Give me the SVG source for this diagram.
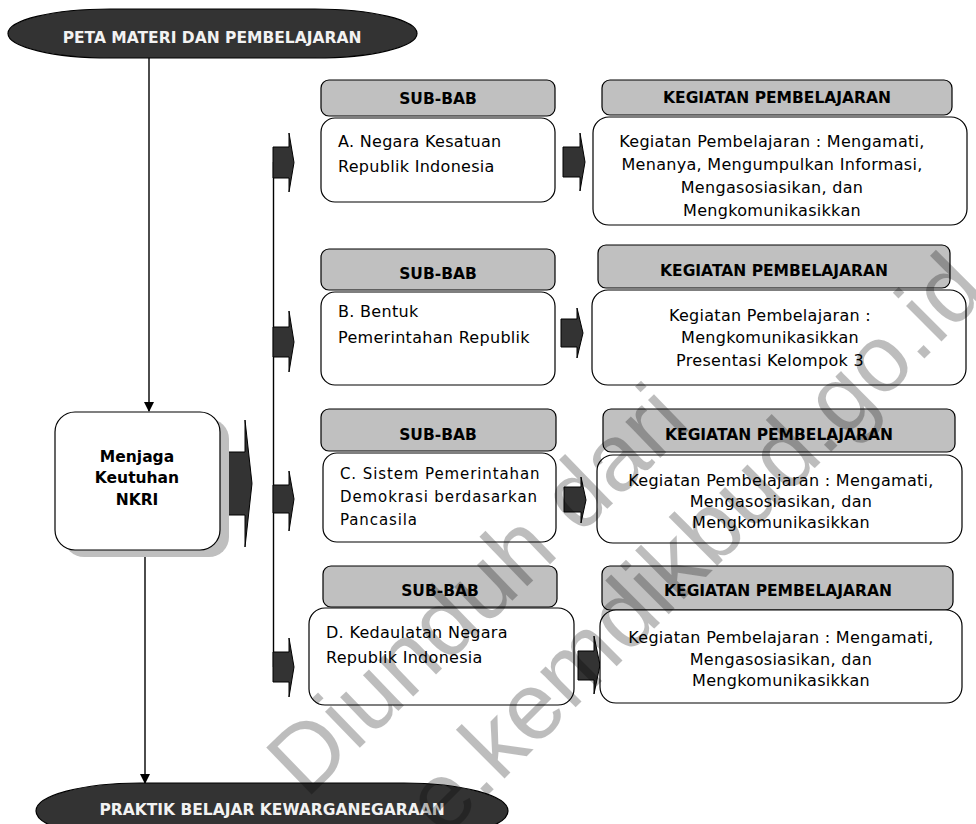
<svg xmlns="http://www.w3.org/2000/svg" width="976" height="824" viewBox="0 0 976 824">
<style>
.hdr{fill:#c0c0c0;stroke:#000;stroke-width:1.2}
.box{fill:#fff;stroke:#000;stroke-width:1.2}
.arr{fill:#333;stroke:#000;stroke-width:1;stroke-linejoin:miter}
.term{fill:#333;stroke:#000;stroke-width:1.2}
.t{font-family:"DejaVu Sans",sans-serif;font-size:16px;letter-spacing:0.3px;fill:#000}
.b{font-family:"DejaVu Sans",sans-serif;font-weight:bold;font-size:15.5px;fill:#000}
.w{fill:#f2f2f2}
.c{text-anchor:middle}
.ln{stroke:#000;stroke-width:1.4;fill:none}
.wm{font-family:"Liberation Sans",Arial,sans-serif;font-size:95px;fill:#000;fill-opacity:0.26}
</style>
<defs>
<marker id="ah" markerWidth="10" markerHeight="10" refX="9" refY="5" orient="auto" markerUnits="userSpaceOnUse">
<path d="M0,0 L10,5 L0,10 z" fill="#000"/>
</marker>
</defs>
<rect width="976" height="824" fill="#fff"/>

<g id="connectors">
<line class="ln" x1="149" y1="58" x2="149" y2="411" marker-end="url(#ah)"/>
<line class="ln" x1="145" y1="550" x2="145" y2="783" marker-end="url(#ah)"/>
<line class="ln" x1="273.5" y1="162" x2="273.5" y2="667"/>
<polygon class="arr" points="227,452 245,452 245,420 252,483.5 245,547 245,515 227,515"/>
<polygon class="arr" points="273,147 289,147 289,133 294,162.5 289,192 289,178 273,178"/>
<polygon class="arr" points="273,327 289,327 289,311 294,342 289,372 289,357 273,357"/>
<polygon class="arr" points="273,485 289,485 289,471 294,499 289,531 289,513 273,513"/>
<polygon class="arr" points="273,652 289,652 289,638 294,667 289,697 289,682 273,682"/>
<polygon class="arr" points="563,147 580,147 580,133 585,162 580,191 580,177 563,177"/>
<polygon class="arr" points="561,319 577,319 577,308 583,333 577,358 577,347 561,347"/>
<polygon class="arr" points="564,487 581,487 581,477 586,500 581,523 581,512 564,512"/>
<polygon class="arr" points="578,651 594,651 594,636 600,665 594,694 594,680 578,680"/>
</g>

<g id="peta">
<path class="term" d="M110,9 L315,9 A102,24.5 0 0 1 315,58 L110,58 A102,24.5 0 0 1 110,9 Z"/>
<text class="b w c" x="212" y="43">PETA MATERI DAN PEMBELAJARAN</text>
</g>

<g id="menjaga">
<rect x="64" y="419" width="165" height="138" rx="20" fill="#bfbfbf"/>
<rect class="box" x="55" y="412" width="165" height="138" rx="20"/>
<text class="b c" x="137" y="462">Menjaga</text>
<text class="b c" x="137" y="483">Keutuhan</text>
<text class="b c" x="137" y="505">NKRI</text>
</g>

<g id="praktik">
<path class="term" d="M140,783 L404,783 A104,28 0 0 1 404,839 L140,839 A104,28 0 0 1 140,783 Z"/>
<text class="b w c" x="272" y="815">PRAKTIK BELAJAR KEWARGANEGARAAN</text>
</g>

<g id="subbab-a">
<rect class="hdr" x="321" y="80" width="234" height="36" rx="8"/>
<text class="b c" x="438" y="104">SUB-BAB</text>
<rect class="box" x="321" y="118" width="234" height="84" rx="14"/>
<text class="t" x="338" y="147">A. Negara Kesatuan</text>
<text class="t" x="338" y="172">Republik Indonesia</text>
</g>

<g id="kegiatan-a">
<rect class="hdr" x="602" y="80" width="350" height="35" rx="8"/>
<text class="b c" x="777" y="103">KEGIATAN PEMBELAJARAN</text>
<rect class="box" x="593" y="117" width="374" height="108" rx="16"/>
<text class="t c" x="772" y="147">Kegiatan Pembelajaran : Mengamati,</text>
<text class="t c" x="772" y="170">Menanya, Mengumpulkan Informasi,</text>
<text class="t c" x="772" y="193">Mengasosiasikan, dan</text>
<text class="t c" x="772" y="216">Mengkomunikasikkan</text>
</g>

<g id="subbab-b">
<rect class="hdr" x="321" y="249" width="234" height="41" rx="8"/>
<text class="b c" x="438" y="279">SUB-BAB</text>
<rect class="box" x="321" y="292" width="234" height="93" rx="14"/>
<text class="t" x="338" y="317">B. Bentuk</text>
<text class="t" x="338" y="343">Pemerintahan Republik</text>
</g>

<g id="kegiatan-b">
<rect class="hdr" x="598" y="245" width="352" height="43" rx="8"/>
<text class="b c" x="774" y="276">KEGIATAN PEMBELAJARAN</text>
<rect class="box" x="592" y="290" width="374" height="95" rx="16"/>
<text class="t c" x="770" y="321">Kegiatan Pembelajaran :</text>
<text class="t c" x="770" y="343">Mengkomunikasikkan</text>
<text class="t c" x="770" y="366">Presentasi Kelompok 3</text>
</g>

<g id="subbab-c">
<rect class="hdr" x="321" y="409" width="235" height="42" rx="8"/>
<text class="b c" x="438" y="440">SUB-BAB</text>
<rect class="box" x="323" y="453" width="233" height="89" rx="14"/>
<text class="t" x="340" y="479" style="font-size:15px;letter-spacing:0.9px">C. Sistem Pemerintahan</text>
<text class="t" x="340" y="502" style="font-size:15px;letter-spacing:0.9px">Demokrasi berdasarkan</text>
<text class="t" x="340" y="525" style="font-size:15px;letter-spacing:0.9px">Pancasila</text>
</g>

<g id="kegiatan-c">
<rect class="hdr" x="603" y="409" width="352" height="43" rx="8"/>
<text class="b c" x="779" y="440">KEGIATAN PEMBELAJARAN</text>
<rect class="box" x="597" y="455" width="365" height="88" rx="16"/>
<text class="t c" x="781" y="486">Kegiatan Pembelajaran : Mengamati,</text>
<text class="t c" x="781" y="507">Mengasosiasikan, dan</text>
<text class="t c" x="781" y="528">Mengkomunikasikkan</text>
</g>

<g id="subbab-d">
<rect class="hdr" x="323" y="566" width="234" height="41" rx="8"/>
<text class="b c" x="440" y="596">SUB-BAB</text>
<rect class="box" x="309" y="608" width="265" height="97" rx="16"/>
<text class="t" x="326" y="638">D. Kedaulatan Negara</text>
<text class="t" x="326" y="663">Republik Indonesia</text>
</g>

<g id="kegiatan-d">
<rect class="hdr" x="602" y="566" width="351" height="44" rx="8"/>
<text class="b c" x="778" y="596">KEGIATAN PEMBELAJARAN</text>
<rect class="box" x="600" y="610" width="362" height="93" rx="16"/>
<text class="t c" x="781" y="643">Kegiatan Pembelajaran : Mengamati,</text>
<text class="t c" x="781" y="665">Mengasosiasikan, dan</text>
<text class="t c" x="781" y="686">Mengkomunikasikkan</text>
</g>

<g id="watermark">
<text class="wm" transform="translate(306,800) rotate(-44)">Diunduh dari</text>
<text class="wm" transform="translate(444,839) rotate(-45)">e.kemdikbud.go.id</text>
</g>
</svg>
